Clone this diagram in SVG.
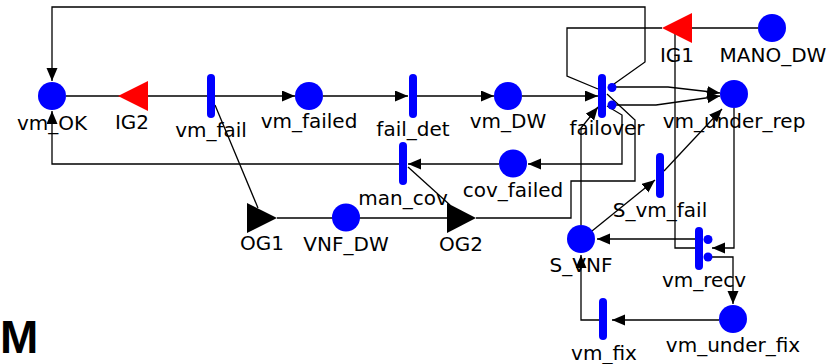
<svg xmlns="http://www.w3.org/2000/svg" width="838" height="364" viewBox="0 0 838 364">
<style>
text{font-family:"DejaVu Sans","Liberation Sans",sans-serif;font-size:20px;fill:#000;text-anchor:middle}
.place{fill:#0000ff}
.bar{stroke:#0000ff;stroke-width:8;stroke-linecap:round}
.case{fill:#0000ff}
.ig{fill:#ff0000}
.og{fill:#000}
.c{fill:none;stroke:#000;stroke-width:1.3}
.a{marker-end:url(#arr)}
</style>
<defs>
<marker id="arr" markerUnits="userSpaceOnUse" markerWidth="14" markerHeight="12" refX="13" refY="5.5" orient="auto">
<path d="M0,0 L13,5.5 L0,11 z" fill="#000"/>
</marker>
</defs>
<rect width="838" height="364" fill="#fff"/>
<g id="connectors">
<polyline class="c" points="66,96 207,96"/>
<polyline class="c a" points="215,96 295,96"/>
<polyline class="c a" points="323,96 408,96"/>
<polyline class="c a" points="417,96 494,96"/>
<polyline class="c a" points="522,96 598,96"/>
<polyline class="c a" points="614,84 645,62 645,7 52,7 52,81"/>
<polyline class="c" points="662,28 567,28 567,76 598,89"/>
<polyline class="c a" points="616,87 668,87 720,93"/>
<polyline class="c a" points="616,105 656,105 720,96"/>
<polyline class="c" points="607,94 635,120 635,181 571,181 571,218 476,218"/>
<polyline class="c a" points="607,106 622,115 622,164 528,164"/>
<polyline class="c a" points="499,164 408,164"/>
<polyline class="c a" points="581,225 581,128 598,107"/>
<polyline class="c a" points="399,164 52,164 52,111"/>
<polyline class="c" points="215,105 258,208"/>
<polyline class="c" points="408,167 450,205"/>
<polyline class="c" points="277,218 447,218"/>
<polyline class="c" points="758,28 692,28"/>
<polyline class="c a" points="592,231 655,180"/>
<polyline class="c a" points="664,171 722,109"/>
<polyline class="c a" points="734,108 734,248 712,248"/>
<polyline class="c" points="675,34 675,248 695,248"/>
<polyline class="c a" points="695,239 597,239"/>
<polyline class="c a" points="708,257 733,257 733,304"/>
<polyline class="c a" points="719,320 612,320"/>
<polyline class="c a" points="599,320 581,320 581,255"/>
</g>
<g id="vm_OK"><circle class="place" cx="52" cy="96" r="14"/><text x="52" y="130">vm_OK</text></g>
<g id="IG2"><polygon class="ig" points="118,96 148,81 148,111"/><text x="132" y="129">IG2</text></g>
<g id="vm_fail"><line class="bar" x1="211" y1="78" x2="211" y2="114"/><text x="211" y="137">vm_fail</text></g>
<g id="vm_failed"><circle class="place" cx="309" cy="96" r="14"/><text x="309" y="128">vm_failed</text></g>
<g id="fail_det"><line class="bar" x1="413" y1="78" x2="413" y2="114"/><text x="413" y="136">fail_det</text></g>
<g id="vm_DW"><circle class="place" cx="508" cy="96" r="14"/><text x="508" y="128">vm_DW</text></g>
<g id="failover"><line class="bar" x1="602" y1="78" x2="602" y2="114"/><circle class="case" cx="612" cy="87.5" r="4.5"/><circle class="case" cx="612" cy="105" r="4.5"/><text x="607" y="135">failover</text></g>
<g id="vm_under_rep"><circle class="place" cx="734" cy="94" r="14"/><text x="734" y="128">vm_under_rep</text></g>
<g id="IG1"><polygon class="ig" points="662,28 692,13 692,43"/><text x="677" y="62">IG1</text></g>
<g id="MANO_DW"><circle class="place" cx="772" cy="28" r="14"/><text x="773" y="62">MANO_DW</text></g>
<g id="man_cov"><line class="bar" x1="403" y1="146" x2="403" y2="181"/><text x="403" y="205">man_cov</text></g>
<g id="cov_failed"><circle class="place" cx="513" cy="163.5" r="14"/><text x="513" y="197">cov_failed</text></g>
<g id="OG1"><polygon class="og" points="247,203 277,218 247,233"/><text x="262" y="250">OG1</text></g>
<g id="VNF_DW"><circle class="place" cx="346" cy="217.5" r="14"/><text x="346" y="251">VNF_DW</text></g>
<g id="OG2"><polygon class="og" points="447,203 476,218 447,233"/><text x="461" y="251">OG2</text></g>
<g id="S_vm_fail"><line class="bar" x1="660" y1="157" x2="660" y2="194"/><text x="660" y="217">S_vm_fail</text></g>
<g id="S_VNF"><circle class="place" cx="581" cy="239" r="14"/><text x="581" y="272">S_VNF</text></g>
<g id="vm_recv"><line class="bar" x1="699" y1="231" x2="699" y2="266"/><circle class="case" cx="708" cy="239.5" r="4.5"/><circle class="case" cx="708" cy="257" r="4.5"/><text x="704" y="287">vm_recv</text></g>
<g id="vm_under_fix"><circle class="place" cx="733" cy="319" r="14"/><text x="733" y="352">vm_under_fix</text></g>
<g id="vm_fix"><line class="bar" x1="603" y1="302" x2="603" y2="336"/><text x="604" y="360">vm_fix</text></g>
<text x="0" y="353" style="font-family:'Liberation Sans',sans-serif;font-size:46px;font-weight:bold;text-anchor:start">M</text>
</svg>
